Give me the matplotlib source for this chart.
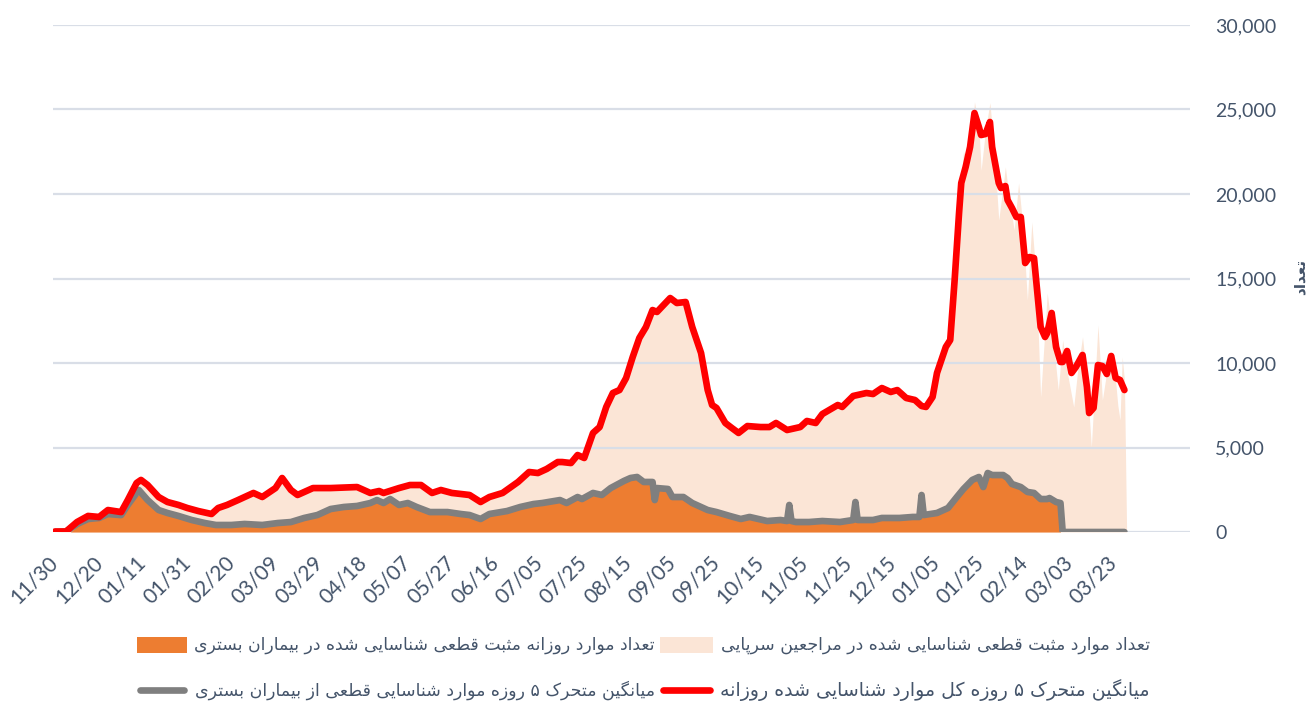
import matplotlib
matplotlib.use("Agg")
import matplotlib.pyplot as plt
from matplotlib.patches import Rectangle
from matplotlib.lines import Line2D

# ---------------- data ----------------
date_labels = ["11/30", "12/20", "01/11", "01/31", "02/20", "03/09", "03/29", "04/18",
               "05/07", "05/27", "06/16", "07/05", "07/25", "08/15", "09/05", "09/25",
               "10/15", "11/05", "11/25", "12/15", "01/05", "01/25", "02/14", "03/03", "03/23"]
label_step = 20  # days between labelled categories

# daily total positives (outpatient + hospital), day index / value
total_idx = [0, 5, 10, 15, 20, 24, 30, 33, 37, 39, 42, 47, 51, 56, 60, 65, 71, 74, 78, 83, 90, 94,
             100, 103, 107, 110, 117, 125, 137, 143, 147, 149, 156, 161, 166, 171, 175, 180, 188,
             193, 197, 203, 210, 215, 219, 223, 228, 230, 234, 237, 240, 244, 247, 250, 253, 256,
             259, 262, 265, 268, 271, 273, 279, 282, 286, 289, 293, 296, 298, 300, 304, 307, 310,
             314, 320, 324, 327, 332, 338, 341, 345, 348, 355, 357, 362, 368, 371, 375, 379, 382,
             386, 390, 393, 395, 398, 400, 404, 406, 408, 410, 412, 414, 416, 417, 419, 420, 422,
             424, 426, 428, 430, 431, 433, 435, 437, 439, 441, 443, 445, 447, 450, 453, 455, 457,
             459, 462, 464, 466, 468, 470, 473, 475, 477, 480, 482, 483, 484, 485, 486]
total_val = [0, 50, 650, 1000, 950, 1350, 1250, 1950, 3000, 3150, 2850, 2150, 1850, 1650, 1500,
             1300, 1100, 1500, 1650, 1950, 2400, 2150, 2700, 3400, 2550, 2250, 2650, 2700, 2750,
             2400, 2500, 2400, 2650, 2850, 2850, 2400, 2550, 2400, 2250, 1850, 2150, 2400, 3050,
             3650, 3550, 3800, 4250, 4200, 4150, 4650, 4450, 5950, 6300, 7500, 8300, 8500, 9200,
             10450, 11600, 12250, 13250, 13100, 13950, 13650, 13700, 12250, 10700, 8500, 7600,
             7400, 6550, 6250, 5950, 6350, 6300, 6300, 6550, 6100, 6300, 6650, 6550, 7050, 7600,
             7500, 8150, 8300, 8250, 8600, 8350, 8500, 8000, 7900, 7550, 7500, 8100, 9500, 11100,
             11500, 15000, 19500, 22500, 22000, 24000, 25450, 24000, 21400, 23800, 25400, 22500,
             18460, 20500, 21600, 19500, 17870, 20650, 18000, 13730, 18340, 15000, 7990, 14140,
             11000, 8400, 11360, 9500, 7400, 9800, 11540, 9000, 5030, 12250, 7810, 9500, 10355,
             7500, 6630, 10355, 9000, 0]

# daily hospital positives
hosp_idx = [7, 10, 15, 20, 24, 30, 33, 38, 42, 47, 51, 56, 62, 68, 73, 80, 86, 94, 101, 107, 113,
            119, 125, 131, 137, 143, 146, 149, 152, 156, 160, 164, 170, 178, 184, 188, 193, 197,
            205, 211, 217, 221, 229, 232, 237, 239, 244, 248, 252, 258, 261, 264, 267, 271, 273,
            278, 280, 285, 289, 296, 300, 306, 311, 315, 323, 329, 333, 336, 342, 348, 356, 363,
            371, 375, 383, 391, 395, 400, 405, 409, 412, 416, 419, 421, 423, 425, 430, 432, 434,
            438, 441, 444, 447, 450, 451, 454, 455, 456]
hosp_val = [0, 350, 760, 800, 1000, 950, 1500, 2250, 1800, 1200, 1050, 880, 650, 480, 380, 380,
            420, 380, 480, 530, 760, 950, 1300, 1400, 1450, 1650, 1800, 1650, 1850, 1500, 1650,
            1400, 1100, 1100, 1000, 950, 720, 1000, 1150, 1400, 1550, 1650, 1800, 1650, 1950,
            1850, 2200, 2100, 2500, 2900, 3100, 3150, 2850, 2850, 2500, 2450, 2000, 2000, 1650,
            1250, 1100, 880, 720, 830, 600, 650, 620, 550, 560, 600, 560, 650, 650, 760, 780,
            830, 900, 1050, 1350, 1950, 2450, 3000, 3150, 2600, 3700, 3300, 3300, 3100, 2750,
            2550, 2300, 2200, 1900, 1850, 1950, 1700, 1650, 0]

# 5-day moving average, total
red_idx = [0, 5, 10, 15, 20, 24, 30, 33, 37, 39, 42, 47, 51, 56, 60, 65, 71, 74, 78, 83, 90, 94,
           100, 103, 107, 110, 117, 125, 137, 143, 147, 149, 156, 161, 166, 171, 175, 180, 188,
           193, 197, 203, 210, 215, 219, 223, 228, 230, 234, 237, 240, 244, 247, 250, 253, 256,
           259, 262, 265, 268, 271, 273, 279, 282, 286, 289, 293, 296, 298, 300, 304, 307, 310,
           314, 320, 324, 327, 332, 338, 341, 345, 348, 355, 357, 362, 368, 371, 375, 379, 382,
           386, 390, 393, 395, 398, 400, 404, 406, 408, 410, 411, 413, 415, 417, 419, 420, 422,
           424, 425, 428, 429, 431, 432, 434, 436, 438, 440, 442, 444, 447, 449, 450, 452, 454,
           456, 457, 459, 461, 463, 466, 468, 469, 471, 473, 475, 477, 479, 481, 483, 485]
red_val = [30, 30, 590, 950, 890, 1300, 1180, 1890, 2900, 3080, 2780, 2070, 1775, 1600, 1420,
           1240, 1065, 1420, 1600, 1890, 2310, 2070, 2600, 3195, 2485, 2190, 2600, 2600, 2660,
           2310, 2425, 2310, 2600, 2780, 2780, 2310, 2485, 2310, 2190, 1775, 2070, 2310, 2960,
           3550, 3490, 3730, 4140, 4140, 4080, 4555, 4380, 5860, 6210, 7400, 8225, 8400, 9110,
           10355, 11480, 12130, 13135, 13020, 13845, 13550, 13610, 12130, 10590, 8400, 7515,
           7340, 6450, 6150, 5860, 6270, 6210, 6210, 6450, 6035, 6210, 6570, 6450, 6980, 7515,
           7400, 8050, 8225, 8165, 8520, 8285, 8400, 7930, 7810, 7455, 7400, 7990, 9410, 10950,
           11360, 14910, 18875, 20650, 21600, 22780, 24790, 23960, 23490, 23550, 24260, 22780,
           20650, 20355, 20470, 19645, 19170, 18640, 18640, 15915, 16270, 16210, 12130, 11540,
           11775, 12960, 10950, 10060, 10060, 10710, 9410, 9765, 10475, 8580, 7040, 7340, 9880,
           9820, 9350, 10415, 9110, 8995, 8400]

# 5-day moving average, hospital
gray_idx = [0, 5, 10, 15, 20, 24, 30, 33, 38, 42, 47, 51, 56, 62, 68, 73, 80, 86, 94, 101, 107,
            113, 119, 125, 131, 137, 143, 146, 149, 152, 156, 160, 164, 170, 178, 184, 188, 193,
            197, 205, 211, 217, 221, 229, 232, 237, 239, 244, 248, 252, 258, 261, 264, 267, 271,
            272, 273, 278, 280, 285, 289, 296, 300, 306, 311, 315, 323, 329, 332, 333, 334, 336,
            342, 348, 356, 362, 363, 364, 371, 375, 383, 389, 392, 393, 394, 400, 405, 409, 412,
            416, 419, 421, 423, 425, 430, 432, 434, 438, 441, 444, 447, 450, 451, 454, 456, 457,
            485]
gray_val = [0, 30, 470, 770, 830, 1065, 1000, 1600, 2485, 1890, 1300, 1125, 950, 710, 530, 415,
            415, 475, 415, 530, 590, 830, 1005, 1360, 1480, 1540, 1715, 1890, 1715, 1950, 1600,
            1715, 1480, 1180, 1180, 1065, 1005, 770, 1065, 1240, 1480, 1655, 1715, 1890, 1715,
            2070, 1950, 2310, 2190, 2600, 3020, 3195, 3255, 2960, 2960, 1890, 2600, 2545, 2070,
            2070, 1715, 1300, 1180, 950, 770, 890, 650, 710, 650, 1600, 650, 590, 590, 650, 590,
            710, 1775, 710, 710, 830, 830, 890, 890, 2190, 1005, 1125, 1420, 2070, 2545, 3080,
            3255, 2660, 3490, 3370, 3370, 3195, 2840, 2660, 2370, 2310, 1950, 1950, 2010, 1775,
            1715, 0, 0]

y_ticks = [0, 5000, 10000, 15000, 20000, 25000, 30000]

# ---------------- Persian shaping helper ----------------
_DUAL = {
    'ب': 'ﺏﺐﺑﺒ', 'پ': 'ﭖﭗﭘﭙ', 'ت': 'ﺕﺖﺗﺘ', 'ث': 'ﺙﺚﺛﺜ', 'ج': 'ﺝﺞﺟﺠ', 'چ': 'ﭺﭻﭼﭽ',
    'ح': 'ﺡﺢﺣﺤ', 'خ': 'ﺥﺦﺧﺨ', 'س': 'ﺱﺲﺳﺴ', 'ش': 'ﺵﺶﺷﺸ', 'ص': 'ﺹﺺﺻﺼ', 'ض': 'ﺽﺾﺿﻀ',
    'ط': 'ﻁﻂﻃﻄ', 'ظ': 'ﻅﻆﻇﻈ', 'ع': 'ﻉﻊﻋﻌ', 'غ': 'ﻍﻎﻏﻐ', 'ف': 'ﻑﻒﻓﻔ', 'ق': 'ﻕﻖﻗﻘ',
    'ک': 'ﮎﮏﮐﮑ', 'گ': 'ﮒﮓﮔﮕ', 'ل': 'ﻝﻞﻟﻠ', 'م': 'ﻡﻢﻣﻤ', 'ن': 'ﻥﻦﻧﻨ', 'ه': 'ﻩﻪﻫﻬ',
    'ی': 'ﯼﯽﯾﯿ',
}
_RIGHT = {'ا': 'ﺍﺎ', 'آ': 'ﺁﺂ', 'د': 'ﺩﺪ', 'ذ': 'ﺫﺬ', 'ر': 'ﺭﺮ', 'ز': 'ﺯﺰ', 'ژ': 'ﮊﮋ', 'و': 'ﻭﻮ'}


def fa(text):
    out = []
    n = len(text)
    for i, ch in enumerate(text):
        prev = text[i - 1] if i > 0 else ''
        nxt = text[i + 1] if i < n - 1 else ''
        pj = prev in _DUAL
        nj = (nxt in _DUAL) or (nxt in _RIGHT)
        if ch in _DUAL:
            f = _DUAL[ch]
            if pj and nj:
                out.append(f[3])
            elif pj:
                out.append(f[1])
            elif nj:
                out.append(f[2])
            else:
                out.append(f[0])
        elif ch in _RIGHT:
            f = _RIGHT[ch]
            out.append(f[1] if pj else f[0])
        else:
            out.append(ch)
    return ''.join(reversed(out))


# ---------------- figure ----------------
W, H = 1312, 718
fig = plt.figure(figsize=(W / 100, H / 100), dpi=100)
ax_left, ax_right, ax_top, ax_bottom = 53, 1190, 25, 532
ax = fig.add_axes([ax_left / W, 1 - ax_bottom / H, (ax_right - ax_left) / W, (ax_bottom - ax_top) / H])

text_col = '#44546A'
peach = '#FBE5D6'
orange = '#ED7D31'
red = '#FF0000'
gray = '#7F7F7F'

ax.fill_between(total_idx, total_val, 0, color=peach, lw=0, zorder=1)
ax.fill_between(hosp_idx, hosp_val, 0, color=orange, lw=0, zorder=3)
ax.plot(gray_idx, gray_val, color=gray, lw=4.8, solid_joinstyle='round', solid_capstyle='round', zorder=4)
ax.plot(red_idx, red_val, color=red, lw=4.8, solid_joinstyle='round', solid_capstyle='round', zorder=5)

px_per_idx = 44.1 / label_step
ax.set_xlim(-(55 - ax_left) / px_per_idx, (ax_right - 55) / px_per_idx)
ax.set_ylim(0, 30000)

ax.set_yticks(y_ticks)
ax.set_yticklabels([f"{v:,}" for v in y_ticks])
ax.yaxis.tick_right()
ax.tick_params(axis='y', length=0, pad=18, labelsize=14, labelcolor=text_col)
for v in y_ticks:
    ax.axhline(v, color='#D9DEE7', lw=1.6, zorder=2)

xt = [i * label_step for i in range(len(date_labels))]
ax.set_xticks(xt)
ax.set_xticklabels(date_labels, rotation=45, ha='right', va='center', rotation_mode='anchor')
ax.tick_params(axis='x', length=0, pad=20, labelsize=15, labelcolor=text_col)
for lab in ax.get_xticklabels() + ax.get_yticklabels():
    lab.set_family('Lato')

for s in ax.spines.values():
    s.set_visible(False)

# axis title (right side)
fig.text(1300 / W, 1 - 277 / H, fa('تعداد'), rotation=90, ha='center', va='center',
         fontsize=11, fontweight='bold', color=text_col, family='DejaVu Sans')

# ---------------- legend (manual, right-to-left, two aligned columns) ----------------
# column: (swatch_left, swatch_right, text_right)
cols = [(660, 713, 1150), (137, 187, 655)]
rows = [
    (645, [(fa('تعداد موارد مثبت قطعی شناسایی شده در مراجعین سرپایی'), 'patch', peach),
           (fa('تعداد موارد روزانه مثبت قطعی شناسایی شده در بیماران بستری'), 'patch', orange)]),
    (690, [(fa('میانگین متحرک ۵ روزه کل موارد شناسایی شده روزانه'), 'line', red),
           (fa('میانگین متحرک ۵ روزه موارد شناسایی قطعی از بیماران بستری'), 'line', gray)]),
]
fig.canvas.draw()
renderer = fig.canvas.get_renderer()
base_fs = 12.5
for ypix, entries in rows:
    for (label, kind, col), (sl, sr, tr) in zip(entries, cols):
        t = fig.text(tr / W, 1 - ypix / H, label, ha='right', va='center', fontsize=base_fs,
                     color=text_col, family='DejaVu Sans')
        w = t.get_window_extent(renderer).width
        target = tr - (sr + 6)
        fs = max(11.5, min(13.6, base_fs * target / w))
        t.set_fontsize(fs)
        if kind == 'patch':
            fig.patches.append(Rectangle((sl / W, 1 - (ypix + 8) / H), (sr - sl) / W, 16 / H,
                                         transform=fig.transFigure, color=col, lw=0))
        else:
            fig.lines.append(Line2D([(sl + 3) / W, (sr - 3) / W], [1 - ypix / H, 1 - ypix / H],
                                    transform=fig.transFigure, color=col, lw=4.8,
                                    solid_capstyle='round'))

fig.savefig('out.png', dpi=100)
